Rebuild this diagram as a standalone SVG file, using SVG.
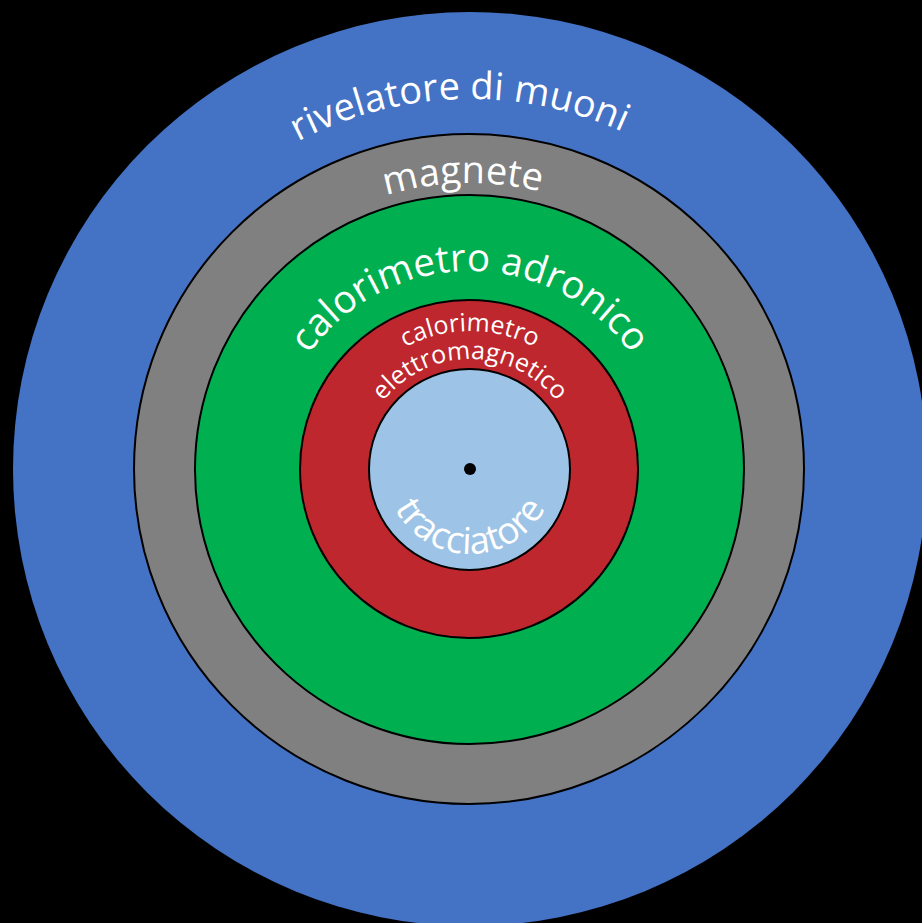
<svg xmlns="http://www.w3.org/2000/svg" width="922" height="923" viewBox="0 0 922 923">
<style>
.ring{stroke:#000;stroke-width:2}
.lbl{fill:#fff;font-family:"Open Sans","DejaVu Sans",sans-serif}
</style>
<defs>
<path id="p1" d="M 100 469 A 370 370 0 0 1 840 469"/>
<path id="p2" d="M 184 469 A 286 286 0 0 1 756 469"/>
<path id="p3" d="M 272 469 A 198 198 0 0 1 668 469"/>
<path id="p4" d="M 332 469 A 138 138 0 0 1 608 469"/>
<path id="p5" d="M 360 469 A 110 110 0 0 1 580 469"/>
<path id="p6" d="M 385 469 A 85 85 0 0 0 555 469"/>
</defs>
<rect width="922" height="923" fill="#000"/>
<g id="muoni">
<circle cx="470" cy="469" r="457" fill="#4472C4"/>
<text class="lbl" font-size="38"><textPath href="#p1" startOffset="570" text-anchor="middle">rivelatore di muoni</textPath></text>
</g>
<g id="magnete">
<circle class="ring" cx="469" cy="469" r="335" fill="#808080"/>
<text class="lbl" font-size="38"><textPath href="#p2" startOffset="442" text-anchor="middle">magnete</textPath></text>
</g>
<g id="adronico">
<circle class="ring" cx="469.5" cy="469.5" r="274.5" fill="#00B050"/>
<text class="lbl" font-size="38.5"><textPath href="#p3" startOffset="50%" text-anchor="middle">calorimetro adronico</textPath></text>
</g>
<g id="elettromagnetico">
<circle class="ring" cx="469" cy="469" r="169" fill="#BE272D"/>
<text class="lbl" font-size="25"><textPath href="#p4" startOffset="50%" text-anchor="middle">calorimetro</textPath></text>
<text class="lbl" font-size="25"><textPath href="#p5" startOffset="50%" text-anchor="middle">elettromagnetico</textPath></text>
</g>
<g id="tracciatore">
<circle class="ring" cx="469.5" cy="469.5" r="100.5" fill="#9DC3E6"/>
<text class="lbl" font-size="37"><textPath href="#p6" startOffset="50%" text-anchor="middle">tracciatore</textPath></text>
</g>
<g id="centro">
<circle cx="470" cy="469" r="6" fill="#000"/>
</g>
</svg>
